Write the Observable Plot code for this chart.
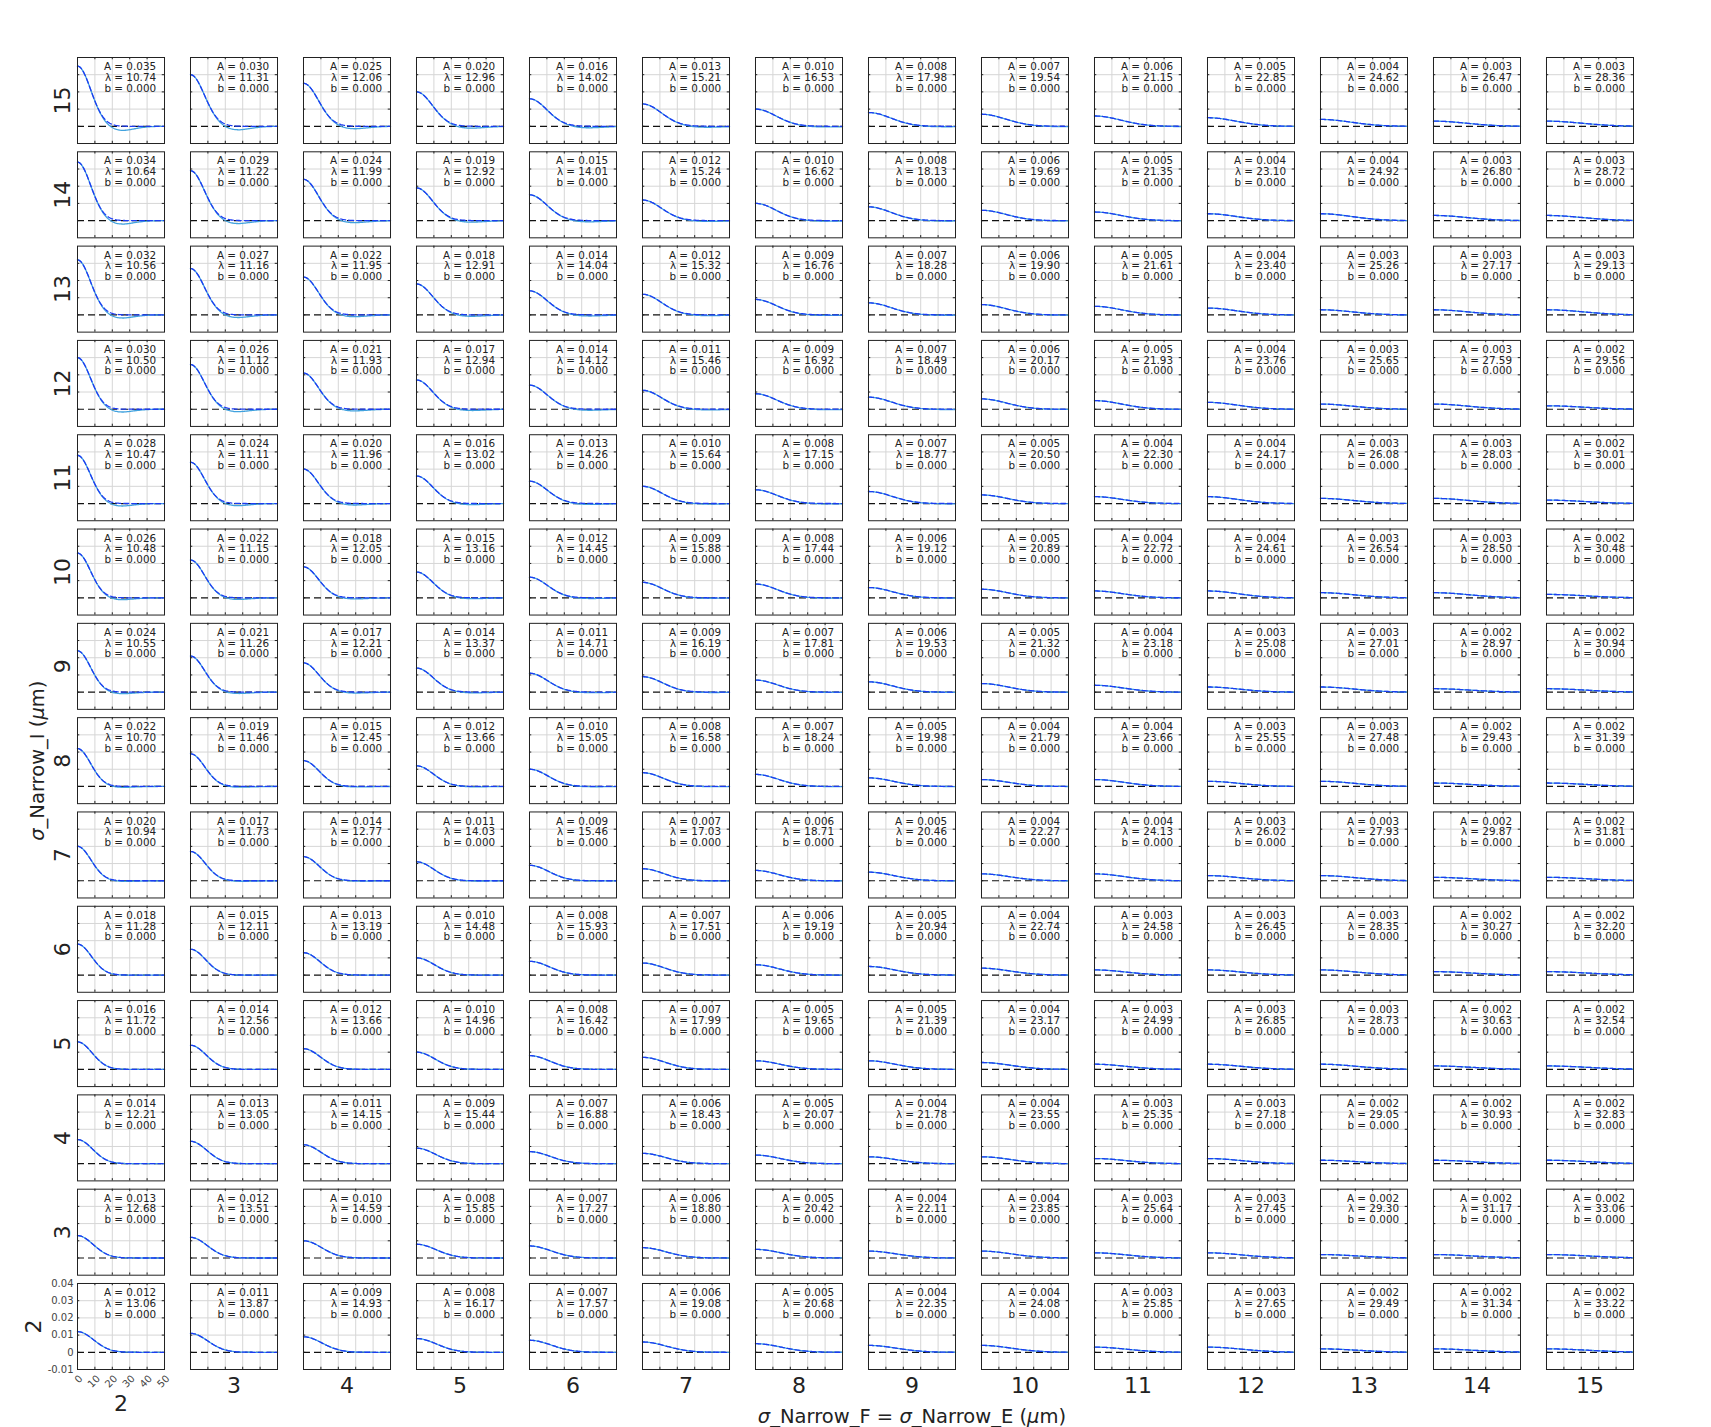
<!DOCTYPE html>
<html>
<head>
<meta charset="utf-8">
<script src="https://cdn.jsdelivr.net/npm/d3@7"></script>
<script src="https://cdn.jsdelivr.net/npm/@observablehq/plot@0.6"></script>
<style>
html, body { margin: 0; padding: 0; background: #fff; overflow: hidden; }
</style>
</head>
<body>
<div id="chart"></div>
<script>
// ---- categories ----
const sigmaF = [2, 3, 4, 5, 6, 7, 8, 9, 10, 11, 12, 13, 14, 15];   // columns: σ_Narrow_F = σ_Narrow_E
const sigmaI = [15, 14, 13, 12, 11, 10, 9, 8, 7, 6, 5, 4, 3, 2];   // rows, top to bottom: σ_Narrow_I

// ---- fitted amplitude A and length λ, one array per row (σ_Narrow_I), columns σ_F = 2..15 ----
const A_I15 = [0.035, 0.030, 0.025, 0.020, 0.016, 0.013, 0.010, 0.008, 0.007, 0.006, 0.005, 0.004, 0.003, 0.003];
const L_I15 = [10.74, 11.31, 12.06, 12.96, 14.02, 15.21, 16.53, 17.98, 19.54, 21.15, 22.85, 24.62, 26.47, 28.36];
const A_I14 = [0.034, 0.029, 0.024, 0.019, 0.015, 0.012, 0.010, 0.008, 0.006, 0.005, 0.004, 0.004, 0.003, 0.003];
const L_I14 = [10.64, 11.22, 11.99, 12.92, 14.01, 15.24, 16.62, 18.13, 19.69, 21.35, 23.10, 24.92, 26.80, 28.72];
const A_I13 = [0.032, 0.027, 0.022, 0.018, 0.014, 0.012, 0.009, 0.007, 0.006, 0.005, 0.004, 0.003, 0.003, 0.003];
const L_I13 = [10.56, 11.16, 11.95, 12.91, 14.04, 15.32, 16.76, 18.28, 19.90, 21.61, 23.40, 25.26, 27.17, 29.13];
const A_I12 = [0.030, 0.026, 0.021, 0.017, 0.014, 0.011, 0.009, 0.007, 0.006, 0.005, 0.004, 0.003, 0.003, 0.002];
const L_I12 = [10.50, 11.12, 11.93, 12.94, 14.12, 15.46, 16.92, 18.49, 20.17, 21.93, 23.76, 25.65, 27.59, 29.56];
const A_I11 = [0.028, 0.024, 0.020, 0.016, 0.013, 0.010, 0.008, 0.007, 0.005, 0.004, 0.004, 0.003, 0.003, 0.002];
const L_I11 = [10.47, 11.11, 11.96, 13.02, 14.26, 15.64, 17.15, 18.77, 20.50, 22.30, 24.17, 26.08, 28.03, 30.01];
const A_I10 = [0.026, 0.022, 0.018, 0.015, 0.012, 0.009, 0.008, 0.006, 0.005, 0.004, 0.004, 0.003, 0.003, 0.002];
const L_I10 = [10.48, 11.15, 12.05, 13.16, 14.45, 15.88, 17.44, 19.12, 20.89, 22.72, 24.61, 26.54, 28.50, 30.48];
const A_I9  = [0.024, 0.021, 0.017, 0.014, 0.011, 0.009, 0.007, 0.006, 0.005, 0.004, 0.003, 0.003, 0.002, 0.002];
const L_I9  = [10.55, 11.26, 12.21, 13.37, 14.71, 16.19, 17.81, 19.53, 21.32, 23.18, 25.08, 27.01, 28.97, 30.94];
const A_I8  = [0.022, 0.019, 0.015, 0.012, 0.010, 0.008, 0.007, 0.005, 0.004, 0.004, 0.003, 0.003, 0.002, 0.002];
const L_I8  = [10.70, 11.46, 12.45, 13.66, 15.05, 16.58, 18.24, 19.98, 21.79, 23.66, 25.55, 27.48, 29.43, 31.39];
const A_I7  = [0.020, 0.017, 0.014, 0.011, 0.009, 0.007, 0.006, 0.005, 0.004, 0.004, 0.003, 0.003, 0.002, 0.002];
const L_I7  = [10.94, 11.73, 12.77, 14.03, 15.46, 17.03, 18.71, 20.46, 22.27, 24.13, 26.02, 27.93, 29.87, 31.81];
const A_I6  = [0.018, 0.015, 0.013, 0.010, 0.008, 0.007, 0.006, 0.005, 0.004, 0.003, 0.003, 0.003, 0.002, 0.002];
const L_I6  = [11.28, 12.11, 13.19, 14.48, 15.93, 17.51, 19.19, 20.94, 22.74, 24.58, 26.45, 28.35, 30.27, 32.20];
const A_I5  = [0.016, 0.014, 0.012, 0.010, 0.008, 0.007, 0.005, 0.005, 0.004, 0.003, 0.003, 0.003, 0.002, 0.002];
const L_I5  = [11.72, 12.56, 13.66, 14.96, 16.42, 17.99, 19.65, 21.39, 23.17, 24.99, 26.85, 28.73, 30.63, 32.54];
const A_I4  = [0.014, 0.013, 0.011, 0.009, 0.007, 0.006, 0.005, 0.004, 0.004, 0.003, 0.003, 0.002, 0.002, 0.002];
const L_I4  = [12.21, 13.05, 14.15, 15.44, 16.88, 18.43, 20.07, 21.78, 23.55, 25.35, 27.18, 29.05, 30.93, 32.83];
const A_I3  = [0.013, 0.012, 0.010, 0.008, 0.007, 0.006, 0.005, 0.004, 0.004, 0.003, 0.003, 0.002, 0.002, 0.002];
const L_I3  = [12.68, 13.51, 14.59, 15.85, 17.27, 18.80, 20.42, 22.11, 23.85, 25.64, 27.45, 29.30, 31.17, 33.06];
const A_I2  = [0.012, 0.011, 0.009, 0.008, 0.007, 0.006, 0.005, 0.004, 0.004, 0.003, 0.003, 0.002, 0.002, 0.002];
const L_I2  = [13.06, 13.87, 14.93, 16.17, 17.57, 19.08, 20.68, 22.35, 24.08, 25.85, 27.65, 29.49, 31.34, 33.22];
const bValue = 0.000;

// ---- measured undershoot of the simulated (light blue) curve below zero ----
// depth relative to A, per row (same order as sigmaI), and a factor per column
const dipDepth = [0.072, 0.063, 0.060, 0.058, 0.055, 0.045, 0.040, 0.026, 0.020, 0.005, 0, 0, 0, 0];
const dipColFactor = [1, 1, 0.85, 0.8, 0.8, 0.65, 0.55, 0.5, 0.45, 0.4, 0.35, 0.3, 0.3, 0.3];
// shape of the residual (simulation - fit) against x/λ
const residU = [0, 0.5, 1.0, 1.25, 1.5, 1.75, 2.0, 2.25, 2.5, 2.75, 3.0, 3.25, 3.5, 3.75, 4.0, 4.5, 5.0];
const residV = [0, 0, -0.02, -0.12, -0.35, -0.6, -0.85, -0.98, -0.97, -0.82, -0.62, -0.42, -0.26, -0.14, -0.06, 0, 0];

// ---- ticks ----
const xTicks = [0, 10, 20, 30, 40, 50];
const yTicks = [0.04, 0.03, 0.02, 0.01, 0, -0.01];
const yTickLabels = ["0.04", "0.03", "0.02", "0.01", "0", "-0.01"];

// ---- build tables ----
const ampRows = [A_I15, A_I14, A_I13, A_I12, A_I11, A_I10, A_I9, A_I8, A_I7, A_I6, A_I5, A_I4, A_I3, A_I2];
const lamRows = [L_I15, L_I14, L_I13, L_I12, L_I11, L_I10, L_I9, L_I8, L_I7, L_I6, L_I5, L_I4, L_I3, L_I2];
const resid = d3.scaleLinear().domain(residU).range(residV).clamp(true);

const panels = [];
const fitPts = [];
const simPts = [];
sigmaI.forEach((row, i) => {
  sigmaF.forEach((col, j) => {
    const A = ampRows[i][j], lam = lamRows[i][j], key = row + "-" + col;
    panels.push({row, col, A, lam, b: bValue});
    const dip = A * dipDepth[i] * dipColFactor[j];
    for (let k = 0; k <= 100; k++) {
      const x = k * 0.5;
      const f = A * Math.exp(-(x / lam) * (x / lam)) + bValue;
      fitPts.push({row, col, key, x, y: f});
      simPts.push({row, col, key, x, y: f + dip * resid(x / lam)});
    }
  });
});

const grid = "#d6d6d6";
const ink = "#222";
const chart = Plot.plot({
  width: 1711,
  height: 1427,
  marginLeft: 77, marginRight: 78, marginTop: 57, marginBottom: 58,
  style: {fontFamily: "'DejaVu Sans', sans-serif", background: "#fff", overflow: "visible"},
  fx: {domain: sigmaF, paddingInner: 0.23, paddingOuter: 0, round: false, axis: null},
  fy: {domain: sigmaI, paddingInner: 0.088, paddingOuter: 0, round: false, axis: null},
  x: {domain: [0, 50], axis: null},
  y: {domain: [-0.01, 0.04], axis: null},
  marks: [
    Plot.ruleX([10, 20, 30, 40], {stroke: grid, strokeWidth: 1}),
    Plot.ruleY([0.03, 0.02, 0.01], {stroke: grid, strokeWidth: 1}),
    // inward tick marks on all four sides
    Plot.ruleY([0.03, 0.02, 0.01, 0], {x1: 0, x2: 1.3, stroke: ink}),
    Plot.ruleY([0.03, 0.02, 0.01, 0], {x1: 48.7, x2: 50, stroke: ink}),
    Plot.ruleX([10, 20, 30, 40], {y1: -0.01, y2: -0.0087, stroke: ink}),
    Plot.ruleX([10, 20, 30, 40], {y1: 0.04, y2: 0.0387, stroke: ink}),
    Plot.ruleY([0], {stroke: "#111", strokeWidth: 1.2, strokeDasharray: "7,4"}),
    Plot.line(simPts, {x: "x", y: "y", z: "key", fx: "col", fy: "row", stroke: "#41a2de", strokeWidth: 1.3}),
    Plot.line(fitPts, {x: "x", y: "y", z: "key", fx: "col", fy: "row", stroke: "#1c3cf2", strokeWidth: 1.3, strokeDasharray: "5,3"}),
    Plot.frame({stroke: ink, strokeWidth: 1}),
    Plot.text(panels, {
      fx: "col", fy: "row", frameAnchor: "top-right", textAnchor: "end", lineAnchor: "top",
      dx: -8.4, dy: 5, lineHeight: 1.03, fontSize: 10.4, fill: ink,
      text: d => `A = ${d.A.toFixed(3)}\nλ = ${d.lam.toFixed(2)}\nb = ${d.b.toFixed(3)}`
    }),
    // tick labels of the bottom-left panel
    Plot.text(xTicks, {x: d => d, fx: () => 2, fy: () => 2, frameAnchor: "bottom", text: d => String(d),
      rotate: -45, textAnchor: "end", lineAnchor: "middle", dx: 3.5, dy: 7.5, fontSize: 10, fill: "#444"}),
    Plot.text(yTicks, {y: d => d, fx: () => 2, fy: () => 2, frameAnchor: "left", text: (d, i) => yTickLabels[i],
      textAnchor: "end", lineAnchor: "middle", dx: -4, fontSize: 10, fill: "#444"}),
    // column labels
    Plot.text(sigmaF.filter(c => c !== 2), {fx: d => d, fy: () => 2, frameAnchor: "bottom", text: d => String(d),
      textAnchor: "middle", lineAnchor: "middle", dy: 16, fontSize: 22, fill: ink}),
    Plot.text([2], {fx: d => d, fy: () => 2, frameAnchor: "bottom", text: d => String(d),
      textAnchor: "middle", lineAnchor: "middle", dy: 34, fontSize: 22, fill: ink}),
    // row labels
    Plot.text(sigmaI.filter(r => r !== 2), {fx: () => 2, fy: d => d, frameAnchor: "left", text: d => String(d),
      rotate: -90, textAnchor: "middle", lineAnchor: "middle", dx: -15, fontSize: 22, fill: ink}),
    Plot.text([2], {fx: () => 2, fy: d => d, frameAnchor: "left", text: d => String(d),
      rotate: -90, textAnchor: "middle", lineAnchor: "middle", dx: -44, fontSize: 22, fill: ink}),
    // axis titles
    Plot.text(["σ_Narrow_F = σ_Narrow_E (μm)"], {fx: () => 9, fy: () => 2, frameAnchor: "bottom", text: d => d,
      textAnchor: "middle", lineAnchor: "middle", dy: 47, fontSize: 19.5, fill: ink, className: "xtitle"}),
    Plot.text(["σ_Narrow_I (μm)"], {fx: () => 2, fy: () => 8, frameAnchor: "left", text: d => d,
      rotate: -90, textAnchor: "middle", lineAnchor: "middle", dx: -40, fontSize: 19.5, fill: ink, className: "ytitle"})
  ]
});
document.getElementById("chart").appendChild(chart);

// italic math symbols (σ, μ) in the axis titles
d3.select(chart).selectAll(".xtitle text, .ytitle text").each(function () {
  const t = d3.select(this);
  const s = t.text();
  t.text(null);
  for (const ch of s) {
    const span = t.append("tspan").text(ch);
    if (ch === "σ" || ch === "μ") span.attr("font-style", "italic");
  }
});
</script>
</body>
</html>
